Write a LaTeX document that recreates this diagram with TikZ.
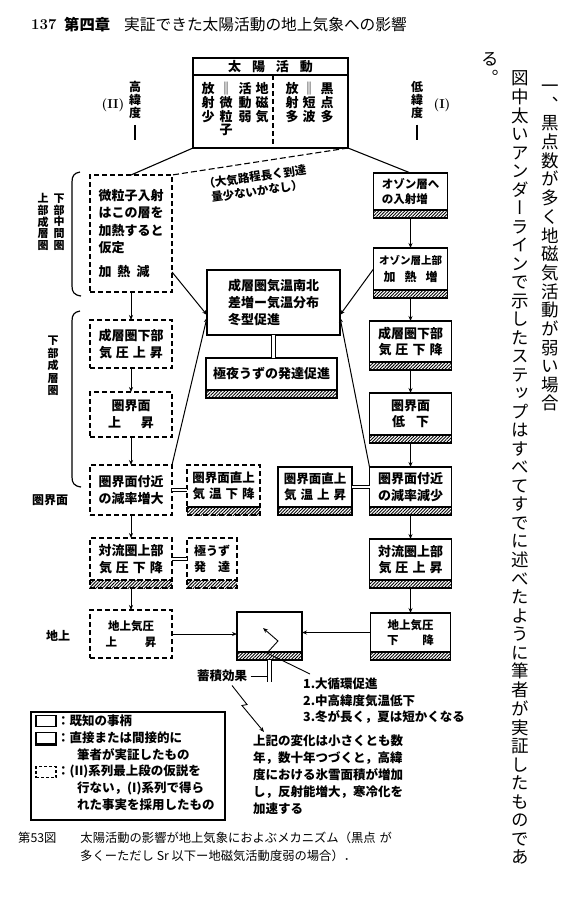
\documentclass[tikz,border=0pt]{standalone}
\usepackage{fontspec}
\newfontfamily\jp{Noto Sans CJK JP}
\newfontfamily\jpv[RawFeature=+vert]{Noto Sans CJK JP}
\usetikzlibrary{arrows.meta,patterns.meta}

% vertical column of characters, one cell per token
\newdimen\vpitch
\def\vcolA#1{\ifx\relax#1\else\hbox to 1em{\hss\vrule height .78\vpitch depth .22\vpitch width 0pt\relax#1\hss}\expandafter\vcolA\fi}
\newcommand\vcol[2]{\vbox{\offinterlineskip\vpitch=#1\relax\vcolA#2\relax}}
\newcommand\dbar{{\jp ‖}}

\begin{document}
\begin{tikzpicture}[x=1pt,y=-1pt,>={Stealth[length=5pt,width=4pt]},
  box/.style={draw,line width=1.3pt,outer sep=0pt,inner sep=1pt,align=center,
    font=\jp\bfseries\fontsize{13}{16.5}\selectfont},
  dbox/.style={box,dash pattern=on 5pt off 3pt},
  hatched/.style={append after command={\pgfextra{%
    \fill[pattern={Lines[angle=45,distance=2.3pt,line width=.9pt]}]
      (\tikzlastnode.south west) rectangle ([yshift=-8pt]\tikzlastnode.south east);
    \draw[line width=1.3pt,#1] (\tikzlastnode.south west) rectangle ([yshift=-8pt]\tikzlastnode.south east);}}},
  hatched/.default=solid,
  dhatched/.style={hatched={dash pattern=on 5pt off 3pt}},
  link/.style={line width=1pt,->},
  dbl/.style={double,double distance=2.5pt,line width=.9pt},
  vtext/.style={inner sep=0pt,anchor=north},
  ]
  \useasboundingbox (0,0) rectangle (584,915);
  \fill[white] (0,0) rectangle (584,915);

  % running head
  \node[anchor=west,inner sep=0pt,font=\bfseries\fontsize{15}{17}\selectfont] (pageno) at (31,25) {137};
  \node[anchor=west,inner sep=0pt,font=\jp\bfseries\fontsize{15.3}{17}\selectfont] (chap) at (64,25) {第四章};
  \node[anchor=west,inner sep=0pt,font=\jp\fontsize{15.7}{17}\selectfont] (runhead) at (124,25) {実証できた太陽活動の地上気象への影響};

  % solar activity box
  \node[box,minimum width=155pt,minimum height=90pt] (sun) at (270.5,103) {};
  \draw[line width=1.3pt] ([yshift=-17pt]sun.north west) -- ([yshift=-17pt]sun.north east);
  \draw[line width=1.1pt,dash pattern=on 5pt off 3pt] ([xshift=2.5pt,yshift=-17pt]sun.north) -- ([xshift=2.5pt]sun.south);
  \node[font=\jp\bfseries\fontsize{13}{15}\selectfont] (suntitle) at (270.5,66.5) {太\hspace{11pt}陽\hspace{11pt}活\hspace{11pt}動};
  \begin{scope}[every node/.style={vtext,font=\jpv\bfseries\fontsize{13}{15}\selectfont}]
    \node (geomag) at (262,82) {\vcol{14pt}{地磁気}};
    \node (actweak) at (245,82) {\vcol{14pt}{活動弱}};
    \node (corp) at (226,82) {\vcol{13pt}{\dbar 微粒子}};
    \node (radlow) at (208,82) {\vcol{14pt}{放射少}};
    \node (spots) at (327,82) {\vcol{14pt}{黒点多}};
    \node (uv) at (309,82) {\vcol{13pt}{\dbar 短波}};
    \node (radhigh) at (292,82) {\vcol{14pt}{放射多}};
  \end{scope}

  % latitude labels
  \node[font=\bfseries\fontsize{13}{15}\selectfont] (hilat) at (113,105) {(II)};
  \node[vtext,font=\jpv\bfseries\fontsize{12}{14}\selectfont] (hilattxt) at (135,81) {\vcol{13pt}{高緯度}};
  \draw[line width=1.6pt] ([yshift=-4pt]hilattxt.south) -- ++(0,15);
  \node[font=\bfseries\fontsize{13}{15}\selectfont] (lolat) at (442,105) {(I)};
  \node[vtext,font=\jpv\bfseries\fontsize{12}{14}\selectfont] (lolattxt) at (417,81) {\vcol{13pt}{低緯度}};
  \draw[line width=1.6pt] ([yshift=-4pt]lolattxt.south) -- ++(0,15);

  % layer labels and brackets
  \node[vtext,font=\jpv\bfseries\fontsize{11}{13}\selectfont] (upstrat) at (43,193) {\vcol{11.5pt}{上部成層圏}};
  \node[vtext,font=\jpv\bfseries\fontsize{11}{13}\selectfont] (lowmeso) at (59,193) {\vcol{11.5pt}{下部中間圏}};
  \node[vtext,font=\jpv\bfseries\fontsize{11}{13}\selectfont] (lowstrat) at (53,335) {\vcol{12.5pt}{下部成層圏}};
  \draw[line width=1.2pt] (80,172) .. controls (74,173) and (72,176) .. (72,182) -- (72,286) .. controls (72,292) and (74,295) .. (81,296);
  \draw[line width=1.2pt] (80,311) .. controls (74,312) and (72,315) .. (72,321) -- (72,477) .. controls (72,483) and (74,486) .. (81,487);
  \node[font=\jp\bfseries\fontsize{12}{14}\selectfont] (tpause) at (50,500) {圏界面};
  \node[font=\jp\bfseries\fontsize{12}{14}\selectfont] (ground) at (58,636) {地上};

  % (II) column
  \node[dbox,minimum width=82pt,minimum height=117pt,align=left,font=\jp\bfseries\fontsize{13}{17.5}\selectfont] (hyp) at (131,233.5)
    {微粒子入射\\はこの層を\\加熱すると\\仮定\\[6pt]加\hspace{6pt}熱\hspace{6pt}減};
  \node[dbox,minimum width=82pt,minimum height=48pt] (pstrL) at (131,344) {成層圏下部\\気\hspace{4pt}圧\hspace{4pt}上\hspace{4pt}昇};
  \node[dbox,minimum width=82pt,minimum height=45pt] (tpL) at (131,414.5) {圏界面\\上\hspace{20pt}昇};
  \node[dbox,minimum width=82pt,minimum height=50pt] (lapseL) at (131,490) {圏界面付近\\の減率増大};
  \node[dbox,dhatched,minimum width=82pt,minimum height=42pt] (pupL) at (131,559) {対流圏上部\\気\hspace{4pt}圧\hspace{4pt}下\hspace{4pt}降};
  \node[dbox,minimum width=82pt,minimum height=48pt,font=\jp\bfseries\fontsize{11.5}{16}\selectfont] (sfcL) at (131,634) {地上気圧\\上\hspace{28pt}昇};

  % middle
  \node[dbox,dhatched,minimum width=73pt,minimum height=42pt,font=\jp\bfseries\fontsize{12.5}{16}\selectfont] (tempL) at (223.5,486) {圏界面直上\\気\hspace{4pt}温\hspace{4pt}下\hspace{4pt}降};
  \node[dbox,dhatched,minimum width=50pt,minimum height=42pt,font=\jp\bfseries\fontsize{12}{16}\selectfont] (vortexL) at (212,559) {極うず\\発\hspace{12pt}達};
  \node[box,hatched,minimum width=74pt,minimum height=40pt,font=\jp\bfseries\fontsize{12.5}{16}\selectfont] (tempR) at (315,487) {圏界面直上\\気\hspace{4pt}温\hspace{4pt}上\hspace{4pt}昇};
  \node[box,minimum width=133pt,minimum height=65pt,align=left,font=\jp\bfseries\fontsize{13}{17}\selectfont] (grad) at (273.5,302.5) {成層圏気温南北\\差増ー気温分布\\冬型促進};
  \node[box,hatched,minimum width=131pt,minimum height=32pt] (vortex) at (271.5,374) {極夜うずの発達促進};
  \node[box,hatched,minimum width=65pt,minimum height=40pt] (climate) at (269.5,632) {};

  % (I) column
  \node[box,hatched,minimum width=74pt,minimum height=37pt,align=left,font=\jp\bfseries\fontsize{11.5}{14.5}\selectfont] (ozin) at (410.5,191.5) {オゾン層へ\\の入射増};
  \node[box,hatched,minimum width=74pt,minimum height=42pt,font=\jp\bfseries\fontsize{10.5}{17}\selectfont] (ozheat) at (410.5,269) {オゾン層上部\\{\fontsize{12}{17}\selectfont 加\hspace{9pt}熱\hspace{9pt}増}};
  \node[box,hatched,minimum width=82pt,minimum height=41pt] (pstrR) at (410.5,341.5) {成層圏下部\\気\hspace{4pt}圧\hspace{4pt}下\hspace{4pt}降};
  \node[box,hatched,minimum width=82pt,minimum height=42pt] (tpR) at (410.5,414) {圏界面\\低\hspace{11pt}下};
  \node[box,hatched,minimum width=82pt,minimum height=40pt] (lapseR) at (410.5,487) {圏界面付近\\の減率減少};
  \node[box,hatched,minimum width=82pt,minimum height=41pt] (pupR) at (410.5,559.5) {対流圏上部\\気\hspace{4pt}圧\hspace{4pt}上\hspace{4pt}昇};
  \node[box,hatched,minimum width=80pt,minimum height=39pt,font=\jp\bfseries\fontsize{11.5}{15}\selectfont] (sfcR) at (410.5,632.5) {地上気圧\\下\hspace{24pt}降};

  % from the sun box
  \draw[line width=1.1pt] (sun.south west) -- (hyp.north);
  \draw[line width=1.1pt] (sun.south east) -- (ozin.north);
  \draw[line width=1.1pt,dash pattern=on 6pt off 3pt] (sun.south east) -- (hyp.north east);
  \node[rotate=8,align=center,inner sep=0pt,font=\jp\bfseries\fontsize{11.5}{14.5}\selectfont] (note) at (256,184) {（大気路程長く到達\\量少ないかなし）};

  % chains
  \draw[link] (hyp.south) -- (pstrL.north);
  \draw[link] (pstrL.south) -- (tpL.north);
  \draw[link] (tpL.south) -- (lapseL.north);
  \draw[link] (lapseL.south) -- (pupL.north);
  \draw[link] ([yshift=-8pt]pupL.south) -- (sfcL.north);
  \draw[link] ([yshift=-8pt]ozin.south) -- (ozheat.north);
  \draw[link] ([yshift=-8pt]ozheat.south) -- (pstrR.north);
  \draw[link] ([yshift=-8pt]pstrR.south) -- (tpR.north);
  \draw[link] ([yshift=-8pt]tpR.south) -- (lapseR.north);
  \draw[link] ([yshift=-8pt]lapseR.south) -- (pupR.north);
  \draw[link] ([yshift=-8pt]pupR.south) -- (sfcR.north);

  % into the gradient box
  \draw[link] ([yshift=20pt]hyp.south east) -- ([yshift=-12.5pt]grad.west);
  \draw[link] (lapseL.north east) -- ([yshift=-15pt]grad.west);
  \draw[link] (ozheat.west) -- ([yshift=-12.5pt]grad.east);
  \draw[link] (lapseR.north west) -- ([yshift=-15pt]grad.east);

  % double links
  \draw[dbl] (grad.south) -- (grad.south |- vortex.north);
  \draw[dbl] (lapseL.east) -- (lapseL.east -| tempL.west);
  \draw[dbl] (tempR.east) -- (tempR.east -| lapseR.west);
  \draw[dbl] (pupL.east) -- (pupL.east -| vortexL.west);

  % surface
  \draw[link] (sfcL.east) -- (sfcL.east -| climate.west);
  \draw[link] (sfcR.west) -- (sfcR.west -| climate.east);
  \node[font=\jp\bfseries\fontsize{12.5}{15}\selectfont] (accum) at (222,676) {蓄積効果};
  \draw[line width=.9pt] (accum.east) -- (accum.east -| climate.south);
  \draw[dbl] ([yshift=-8pt]climate.south) -- ++(0,22);
  \node[anchor=north west,align=left,inner sep=0pt,font=\jp\bfseries\fontsize{12.5}{16.5}\selectfont] (effects) at (303,678)
    {1.大循環促進\\2.中高緯度気温低下\\3.冬が長く，夏は短かくなる};
  \draw[line width=.9pt,->] ([xshift=7pt,yshift=4pt]effects.north west) -- (267,653) -- (278,641) -- (263,628);
  \node[anchor=north west,align=left,inner sep=0pt,font=\jp\bfseries\fontsize{12.5}{17}\selectfont] (change) at (253,735)
    {上記の変化は小さくとも数\\年，数十年つづくと，高緯\\度における氷雪面積が増加\\し，反射能増大，寒冷化を\\加速する};
  \draw[line width=.9pt,->] ([xshift=10pt]accum.south) -- ++(15,19) -- ++(-5,1) -- ([xshift=11pt,yshift=3pt]change.north west);

  % legend
  \node[draw,line width=1.4pt,minimum width=194pt,minimum height=108pt] (legend) at (128,766) {};
  \node[draw,line width=1.1pt,minimum width=20pt,minimum height=11pt] (keyA) at (46,721) {};
  \node[draw,line width=1.1pt,minimum width=20pt,minimum height=11pt] (keyB) at (46,738) {};
  \draw[line width=3pt] (keyB.south west) -- (keyB.south east);
  \node[draw,line width=1.1pt,dash pattern=on 3pt off 2pt,minimum width=20pt,minimum height=11pt] (keyC) at (46,772) {};
  \begin{scope}[every node/.style={anchor=north west,align=left,inner sep=0pt,font=\jp\bfseries\fontsize{12.5}{16.8}\selectfont}]
    \node (keyAtxt) at (57,715) {：既知の事柄};
    \node (keyBtxt) at (57,732) {：直接または間接的に\\\hspace*{20pt}筆者が実証したもの};
    \node (keyCtxt) at (57,765) {：(II)系列最上段の仮説を\\\hspace*{20pt}行ない，(I)系列で得ら\\\hspace*{20pt}れた事実を採用したもの};
  \end{scope}

  % caption
  \node[anchor=west,inner sep=0pt,font=\jp\fontsize{12.3}{15}\selectfont] (cap1) at (18,838) {第53図\hspace{24pt}太陽活動の影響が地上気象におよぶメカニズム（黒点\hspace{4pt}が};
  \node[anchor=west,inner sep=0pt,font=\jp\fontsize{12.3}{15}\selectfont] (cap2) at (80,856) {多くーただし Sr 以下ー地磁気活動度弱の場合）．};

  % body text, set vertically
  \begin{scope}[every node/.style={vtext,font=\jpv\fontsize{17.5}{20}\selectfont}]
    \node (lead) at (550,78) {\vcol{18.5pt}{一、黒点数が多く地磁気活動が弱い場合}};
    \node (body) at (520,70) {\vcol{18.5pt}{図中太いアンダーラインで示したステップはすべてすでに述べたように筆者が実証したものであ}};
    \node (tail) at (490,51) {\vcol{18.5pt}{る。}};
  \end{scope}
\end{tikzpicture}
\end{document}
